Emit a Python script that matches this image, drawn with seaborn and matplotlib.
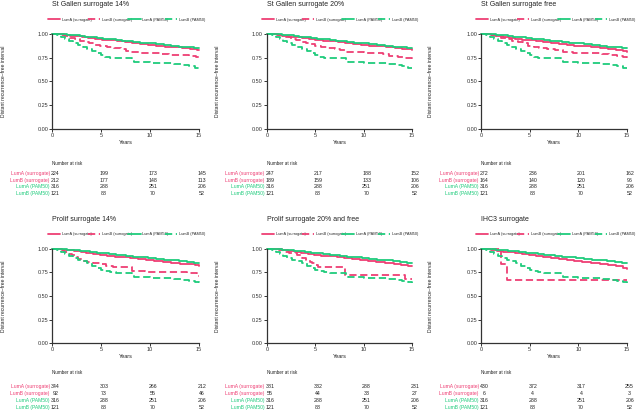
import numpy as np
import pandas as pd
import matplotlib
matplotlib.use('Agg')
import matplotlib.pyplot as plt
import matplotlib.transforms as mtransforms
import seaborn as sns

sns.set_theme(style='ticks')
plt.rcParams['font.family'] = ['Liberation Sans', 'DejaVu Sans']

# ---- data ----
groups = ['LumA (surrogate)', 'LumB (surrogate)', 'LumA (PAM50)', 'LumB (PAM50)']
titles = ['St Gallen surrogate 14%', 'St Gallen surrogate 20%', 'St Gallen surrogate free',
          'Prolif surrogate 14%', 'Prolif surrogate 20% and free', 'IHC3 surrogate']
risk_years = [0, 5, 10, 15]

# PAM50 curves (same cohort in every panel)
pam50_luma_t = [0, 0.9, 1.5, 2.1, 2.8, 3.3, 3.9, 4.6, 5.2, 5.8, 6.5, 7.1, 7.6, 8.3, 9.0, 9.8, 10.6, 11.4, 12.2, 13.0, 13.8, 14.5, 15]
pam50_luma_s = [1.0, 0.995, 0.99, 0.985, 0.978, 0.972, 0.965, 0.958, 0.952, 0.945, 0.938, 0.93, 0.922, 0.915, 0.908, 0.90, 0.893, 0.885, 0.877, 0.868, 0.86, 0.852, 0.85]
pam50_lumb_t = [0, 0.5, 0.9, 1.3, 1.7, 2.1, 2.6, 3.1, 3.6, 4.1, 4.6, 5.0, 5.4, 5.9, 6.5, 8.2, 8.4, 10.0, 11.5, 12.5, 13.3, 14.0, 14.6, 15]
pam50_lumb_s = [1.0, 0.985, 0.965, 0.945, 0.925, 0.905, 0.885, 0.865, 0.845, 0.82, 0.795, 0.775, 0.76, 0.75, 0.745, 0.72, 0.70, 0.695, 0.69, 0.68, 0.67, 0.66, 0.645, 0.64]

# surrogate curves, one pair per panel
p1_luma_t = [0, 1.2, 1.8, 2.4, 3.0, 3.7, 4.4, 5.1, 5.8, 6.6, 7.4, 8.2, 9.0, 9.8, 10.6, 11.5, 12.4, 13.3, 14.1, 14.8, 15]
p1_luma_s = [1.0, 0.99, 0.982, 0.975, 0.967, 0.958, 0.95, 0.94, 0.932, 0.924, 0.915, 0.905, 0.895, 0.885, 0.877, 0.868, 0.86, 0.852, 0.844, 0.836, 0.834]
p1_lumb_t = [0, 0.9, 1.3, 1.8, 2.3, 2.8, 3.3, 3.8, 4.3, 4.9, 5.6, 6.3, 7.0, 7.6, 8.1, 9.0, 10.0, 11.0, 12.0, 13.0, 14.0, 14.7, 15]
p1_lumb_s = [1.0, 0.99, 0.975, 0.96, 0.945, 0.93, 0.915, 0.90, 0.885, 0.875, 0.865, 0.855, 0.84, 0.825, 0.81, 0.805, 0.80, 0.79, 0.78, 0.775, 0.77, 0.76, 0.755]

p2_luma_t = [0, 1.1, 1.7, 2.3, 3.0, 3.6, 4.3, 5.0, 5.8, 6.5, 7.3, 8.1, 8.9, 9.7, 10.5, 11.4, 12.3, 13.2, 14.0, 14.7, 15]
p2_luma_s = [1.0, 0.99, 0.98, 0.972, 0.964, 0.955, 0.947, 0.938, 0.93, 0.922, 0.913, 0.904, 0.895, 0.887, 0.878, 0.87, 0.862, 0.853, 0.845, 0.838, 0.832]
p2_lumb_t = [0, 1.0, 1.5, 2.0, 2.5, 3.0, 3.5, 4.0, 4.5, 5.0, 5.6, 6.3, 7.0, 7.6, 8.1, 9.0, 10.0, 11.0, 12.0, 12.6, 13.5, 14.3, 15]
p2_lumb_s = [1.0, 0.99, 0.98, 0.965, 0.95, 0.935, 0.92, 0.905, 0.89, 0.875, 0.865, 0.855, 0.845, 0.83, 0.815, 0.81, 0.80, 0.795, 0.785, 0.765, 0.76, 0.75, 0.742]

p3_luma_t = [0, 1.0, 1.6, 2.2, 2.9, 3.5, 4.2, 4.9, 5.6, 6.4, 7.2, 8.0, 8.8, 9.6, 10.4, 11.3, 12.2, 13.1, 13.9, 14.6, 15]
p3_luma_s = [1.0, 0.99, 0.98, 0.97, 0.96, 0.951, 0.942, 0.932, 0.923, 0.914, 0.905, 0.896, 0.887, 0.878, 0.869, 0.86, 0.851, 0.842, 0.833, 0.823, 0.815]
p3_lumb_t = [0, 0.9, 1.4, 2.0, 2.6, 3.2, 3.8, 4.3, 4.8, 5.4, 6.0, 6.8, 7.6, 8.4, 9.5, 10.5, 11.5, 12.5, 13.2, 14.0, 14.6, 15]
p3_lumb_s = [1.0, 0.99, 0.975, 0.96, 0.945, 0.93, 0.915, 0.90, 0.87, 0.86, 0.85, 0.84, 0.83, 0.81, 0.805, 0.80, 0.795, 0.79, 0.775, 0.765, 0.755, 0.75]

p4_luma_t = [0, 1.0, 1.6, 2.2, 2.9, 3.5, 4.2, 4.9, 5.6, 6.4, 7.2, 8.0, 8.8, 9.6, 10.4, 11.3, 12.2, 13.1, 13.9, 14.6, 15]
p4_luma_s = [1.0, 0.99, 0.982, 0.973, 0.963, 0.954, 0.945, 0.935, 0.926, 0.917, 0.907, 0.898, 0.889, 0.88, 0.871, 0.862, 0.853, 0.843, 0.834, 0.824, 0.817]
p4_lumb_t = [0, 0.8, 1.2, 1.6, 2.0, 2.3, 2.6, 3.0, 3.6, 4.2, 4.9, 5.5, 6.2, 8.2, 9.5, 11.0, 12.5, 13.8, 14.8, 15]
p4_lumb_s = [1.0, 0.985, 0.965, 0.945, 0.93, 0.91, 0.89, 0.875, 0.86, 0.85, 0.835, 0.82, 0.81, 0.76, 0.755, 0.755, 0.75, 0.745, 0.71, 0.71]

p5_luma_t = [0, 1.0, 1.6, 2.2, 2.9, 3.5, 4.2, 4.9, 5.6, 6.4, 7.2, 8.0, 8.8, 9.6, 10.4, 11.3, 12.2, 13.1, 13.9, 14.6, 15]
p5_luma_s = [1.0, 0.992, 0.984, 0.975, 0.966, 0.957, 0.947, 0.937, 0.928, 0.918, 0.908, 0.899, 0.89, 0.881, 0.872, 0.862, 0.852, 0.842, 0.832, 0.822, 0.817]
p5_lumb_t = [0, 1.2, 1.7, 2.3, 3.1, 3.6, 4.0, 4.4, 4.7, 5.0, 5.3, 8.1, 14.3, 15]
p5_lumb_s = [1.0, 0.985, 0.97, 0.95, 0.93, 0.90, 0.88, 0.86, 0.845, 0.83, 0.81, 0.72, 0.68, 0.68]

p6_luma_t = [0, 1.0, 1.6, 2.2, 2.9, 3.5, 4.2, 4.9, 5.6, 6.4, 7.2, 8.0, 8.8, 9.6, 10.4, 11.3, 12.2, 13.1, 13.9, 14.6, 15]
p6_luma_s = [1.0, 0.99, 0.98, 0.97, 0.96, 0.95, 0.94, 0.93, 0.92, 0.91, 0.9, 0.89, 0.88, 0.87, 0.86, 0.85, 0.84, 0.83, 0.815, 0.8, 0.79]
p6_lumb_t = [0, 2.0, 2.6, 15]
p6_lumb_s = [1.0, 0.833, 0.667, 0.667]

# numbers at risk (rows follow `groups`)
risk_p1 = [[224, 199, 173, 145], [212, 177, 148, 113], [316, 288, 251, 206], [121, 88, 70, 52]]
risk_p2 = [[247, 217, 188, 152], [189, 159, 133, 106], [316, 288, 251, 206], [121, 88, 70, 52]]
risk_p3 = [[272, 236, 201, 162], [164, 140, 120, 96], [316, 288, 251, 206], [121, 88, 70, 52]]
risk_p4 = [[344, 303, 266, 212], [92, 73, 55, 46], [316, 288, 251, 206], [121, 88, 70, 52]]
risk_p5 = [[381, 332, 288, 231], [55, 44, 33, 27], [316, 288, 251, 206], [121, 88, 70, 52]]
risk_p6 = [[430, 372, 317, 255], [6, 4, 4, 3], [316, 288, 251, 206], [121, 88, 70, 52]]

surr_curves = [
    (p1_luma_t, p1_luma_s, p1_lumb_t, p1_lumb_s),
    (p2_luma_t, p2_luma_s, p2_lumb_t, p2_lumb_s),
    (p3_luma_t, p3_luma_s, p3_lumb_t, p3_lumb_s),
    (p4_luma_t, p4_luma_s, p4_lumb_t, p4_lumb_s),
    (p5_luma_t, p5_luma_s, p5_lumb_t, p5_lumb_s),
    (p6_luma_t, p6_luma_s, p6_lumb_t, p6_lumb_s),
]
risks = [risk_p1, risk_p2, risk_p3, risk_p4, risk_p5, risk_p6]

# ---- style ----
PINK = '#EE3F74'
GREEN = '#1FCB7C'
palette = {groups[0]: PINK, groups[1]: PINK, groups[2]: GREEN, groups[3]: GREEN}
dashes = {groups[0]: '', groups[1]: (4, 2), groups[2]: '', groups[3]: (4, 2)}
label_colors = [PINK, PINK, GREEN, GREEN]

W, H = 637, 411
fig = plt.figure(figsize=(W / 100, H / 100), dpi=100)

col_x = [(52.3, 198.7), (267.0, 412.0), (481.3, 626.7)]
row_y = [(34.0, 129.0), (248.7, 343.3)]
title_y = [5, 219]
legend_y = [19.5, 234]
legend_x = [(48, 205), (262, 418), (476, 635)]
years_y = [142, 356]
nar_y = [163, 372]
rows_y = [[173.3, 180.0, 186.7, 193.0], [386.0, 393.2, 400.5, 407.5]]
ylabel_x = [3.5, 217.5, 431]


def fx(px):
    return px / W


def fy(py):
    return 1 - py / H


for i in range(6):
    r, c = divmod(i, 3)
    x0, x1 = col_x[c]
    ytop, ybot = row_y[r]
    ax = fig.add_axes([fx(x0), fy(ybot), fx(x1 - x0), (ybot - ytop) / H])

    la_t, la_s, lb_t, lb_s = surr_curves[i]
    df = pd.concat([
        pd.DataFrame({'time': la_t, 'surv': la_s, 'group': groups[0]}),
        pd.DataFrame({'time': lb_t, 'surv': lb_s, 'group': groups[1]}),
        pd.DataFrame({'time': pam50_luma_t, 'surv': pam50_luma_s, 'group': groups[2]}),
        pd.DataFrame({'time': pam50_lumb_t, 'surv': pam50_lumb_s, 'group': groups[3]}),
    ], ignore_index=True)

    sns.lineplot(data=df, x='time', y='surv', hue='group', style='group',
                 hue_order=groups, style_order=groups, palette=palette, dashes=dashes,
                 estimator=None, drawstyle='steps-post', linewidth=1.3, ax=ax)
    for ln in ax.lines:
        ln.set_clip_on(False)

    ax.set_xlim(0, 15)
    ax.set_ylim(0, 1)
    ax.set_xticks(risk_years)
    ax.set_yticks([0, 0.25, 0.5, 0.75, 1.0])
    ax.set_yticklabels(['0.00', '0.25', '0.50', '0.75', '1.00'])
    ax.set_xlabel('')
    ax.set_ylabel('')
    sns.despine(ax=ax)
    for s in ['left', 'bottom']:
        ax.spines[s].set_linewidth(0.9)
        ax.spines[s].set_color('#333333')
    ax.tick_params(axis='both', labelsize=4, length=2, width=0.7, pad=1, colors='#333333')
    ax.patch.set_alpha(0)

    lx0, lx1 = legend_x[c]
    sns.move_legend(ax, loc='center', bbox_to_anchor=(fx(lx0), fy(legend_y[r]) - 0.006, fx(lx1 - lx0), 0.012),
                    bbox_transform=fig.transFigure, ncol=4, mode='expand', title=None,
                    frameon=False, fontsize=2.8, handlelength=3.2, handletextpad=0.4,
                    columnspacing=0.5, borderaxespad=0, borderpad=0)

    fig.text(fx(x0), fy(title_y[r]), titles[i], fontsize=5, ha='left', va='center', color='#222222')
    fig.text(fx(ylabel_x[c]), fy((ytop + ybot) / 2), 'Distant recurrence–free interval',
             fontsize=3.6, rotation=90, ha='center', va='center', color='#222222')
    fig.text(fx((x0 + x1) / 2), fy(years_y[r]), 'Years', fontsize=4, ha='center', va='center', color='#222222')

    # number at risk table
    fig.text(fx(x0), fy(nar_y[r]), 'Number at risk', fontsize=3.3, ha='left', va='center', color='#222222')
    trans = mtransforms.blended_transform_factory(ax.transData, fig.transFigure)
    for k, g in enumerate(groups):
        yy = fy(rows_y[r][k])
        fig.text(fx(x0 - 2.5), yy, g, fontsize=3.6, ha='right', va='center', color=label_colors[k])
        for yr, n in zip(risk_years, risks[i][k]):
            ax.text(yr + 0.3, yy, str(n), transform=trans, fontsize=3.8, ha='center', va='center',
                    color='#222222', clip_on=False)

fig.savefig('out.png', dpi=100)
